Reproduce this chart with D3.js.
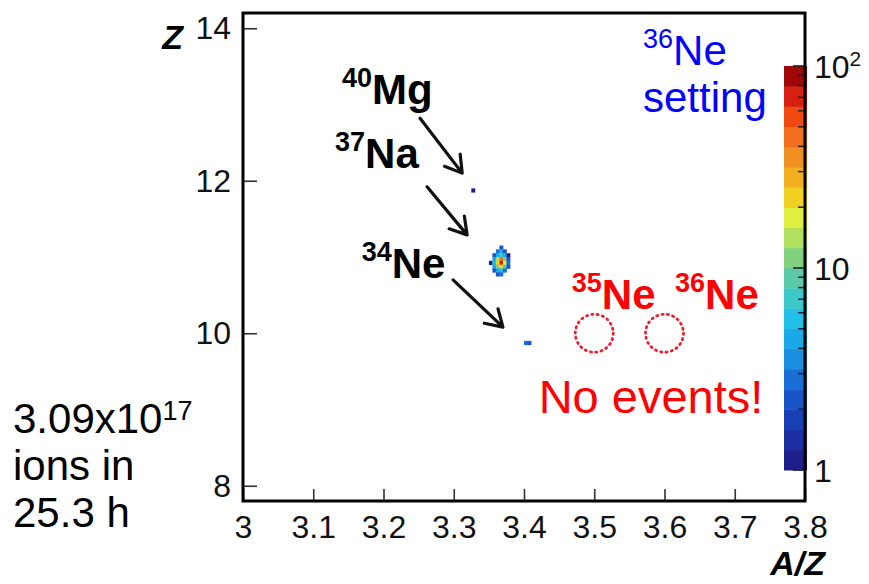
<!DOCTYPE html>
<html>
<head>
<meta charset="utf-8">
<script src="https://cdn.jsdelivr.net/npm/d3@7"></script>
<style>
body { margin: 0; background: #fff; }
text { font-family: "Liberation Sans", Arial, Helvetica, sans-serif; }
</style>
</head>
<body>
<svg id="chart" width="869" height="584"></svg>
<script>
// x / y ticks
var xTicks = [3, 3.1, 3.2, 3.3, 3.4, 3.5, 3.6, 3.7, 3.8]
var xTickLabels = ['3', '3.1', '3.2', '3.3', '3.4', '3.5', '3.6', '3.7', '3.8']
var yTicks = [8, 10, 12, 14]

// histogram bins: [A/Z low edge, Z low edge, counts]
var binWidthAZ = 0.005
var binWidthZ = 0.05
var cells = [
  [3.325, 11.85, 1],
  [3.365, 11.10, 2],
  [3.360, 11.05, 3], [3.365, 11.05, 4], [3.370, 11.05, 2],
  [3.355, 11.00, 2], [3.360, 11.00, 5], [3.365, 11.00, 7], [3.370, 11.00, 4], [3.375, 11.00, 1],
  [3.355, 10.95, 4], [3.360, 10.95, 14], [3.365, 10.95, 45], [3.370, 10.95, 12], [3.375, 10.95, 2],
  [3.350, 10.90, 1], [3.355, 10.90, 6], [3.360, 10.90, 22], [3.365, 10.90, 70], [3.370, 10.90, 18], [3.375, 10.90, 3],
  [3.355, 10.85, 5], [3.360, 10.85, 12], [3.365, 10.85, 25], [3.370, 10.85, 8], [3.375, 10.85, 2],
  [3.355, 10.80, 2], [3.360, 10.80, 5], [3.365, 10.80, 6], [3.370, 10.80, 3],
  [3.360, 10.75, 2], [3.365, 10.75, 3],
  [3.400, 9.85, 3], [3.405, 9.85, 2]
]

// colour palette, bottom (1) to top (100)
var palette = [
  '#1f1f8c', '#1c2ea2', '#1a40b6', '#1a55c8', '#1a6fd6',
  '#1a8ee0', '#1aa8e8', '#22c0e8', '#3cc8c8', '#5ccaa8',
  '#80d080', '#b0e060', '#e0f040', '#f0d020', '#f0b020',
  '#f09020', '#f07020', '#f04a10', '#d82010', '#a00808'
]
var cbMajor = [1, 10, 100]
var cbMinor = [2, 3, 4, 5, 6, 7, 8, 9, 20, 30, 40, 50, 60, 70, 80, 90]

// annotations
var arrows = [
  [3.252, 12.82, 3.312, 12.10],
  [3.262, 11.92, 3.319, 11.29],
  [3.299, 10.70, 3.370, 10.08]
]
var nuclei = [
  { mass: '40', sym: 'Mg', az: 3.141, z: 13.01, color: '#000' },
  { mass: '37', sym: 'Na', az: 3.131, z: 12.17, color: '#000' },
  { mass: '34', sym: 'Ne', az: 3.169, z: 10.72, color: '#000' },
  { mass: '35', sym: 'Ne', az: 3.468, z: 10.32, color: '#ff0000' },
  { mass: '36', sym: 'Ne', az: 3.615, z: 10.32, color: '#ff0000' }
]
var missing = [[3.5, 10], [3.6, 10]]

var svg = d3.select('#chart')

var xPositionScale = d3.scaleLinear().domain([3, 3.8]).range([243, 805])
var yPositionScale = d3.scaleLinear().domain([7.8, 14.2]).range([501, 13])
var colorBarScale = d3.scaleLog().domain([1, 100]).range([470, 66])
var colorScale = d3.scaleQuantize().domain([0, 2]).range(palette)

// heatmap cells
svg.append('g')
  .selectAll('rect')
  .data(cells)
  .enter()
  .append('rect')
  .attr('x', d => xPositionScale(d[0]))
  .attr('y', d => yPositionScale(d[1] + binWidthZ))
  .attr('width', xPositionScale(3 + binWidthAZ) - xPositionScale(3) + 0.4)
  .attr('height', yPositionScale(8) - yPositionScale(8 + binWidthZ) + 0.4)
  .attr('fill', d => colorScale(Math.min(Math.log10(d[2]), 1.999)))

// axes
var xAxis = d3.axisBottom(xPositionScale)
  .tickValues(xTicks)
  .tickSize(-12)
  .tickPadding(14)
  .tickFormat((d, i) => xTickLabels[i])
svg.append('g')
  .attr('class', 'axis x-axis')
  .attr('transform', `translate(0, ${yPositionScale(7.8)})`)
  .call(xAxis)

var yAxis = d3.axisLeft(yPositionScale)
  .tickValues(yTicks)
  .tickSize(-14)
  .tickPadding(12)
  .tickFormat(d3.format('d'))
svg.append('g')
  .attr('class', 'axis y-axis')
  .attr('transform', `translate(${xPositionScale(3)}, 0)`)
  .call(yAxis)

svg.selectAll('.axis .domain').remove()
svg.selectAll('.axis line').attr('stroke', '#333').attr('stroke-width', 1.6)
svg.selectAll('.axis text')
  .attr('font-size', 32)
  .attr('fill', '#111')
  .style('font-family', '"Liberation Sans", Arial, sans-serif')

// colour bar
var bands = d3.range(palette.length)
svg.append('g')
  .selectAll('rect')
  .data(bands)
  .enter()
  .append('rect')
  .attr('x', 784)
  .attr('y', d => colorBarScale(Math.pow(10, (d + 1) / 10)))
  .attr('width', 23)
  .attr('height', d => colorBarScale(Math.pow(10, d / 10)) - colorBarScale(Math.pow(10, (d + 1) / 10)) + 0.5)
  .attr('fill', d => palette[d])

svg.append('g')
  .selectAll('line')
  .data(cbMinor)
  .enter()
  .append('line')
  .attr('x1', 805).attr('x2', 798)
  .attr('y1', d => colorBarScale(d)).attr('y2', d => colorBarScale(d))
  .attr('stroke', '#222').attr('stroke-width', 1.5)
svg.append('g')
  .selectAll('line')
  .data(cbMajor)
  .enter()
  .append('line')
  .attr('x1', 805).attr('x2', 793)
  .attr('y1', d => colorBarScale(d)).attr('y2', d => colorBarScale(d))
  .attr('stroke', '#222').attr('stroke-width', 1.6)

var cbLabels = svg.append('g')
  .selectAll('text')
  .data(cbMajor)
  .enter()
  .append('text')
  .attr('x', 814)
  .attr('y', d => colorBarScale(d))
  .attr('dy', '0.36em')
  .attr('font-size', 32)
  .attr('fill', '#111')
cbLabels.append('tspan').text(d => d === 100 ? '10' : String(d))
cbLabels.filter(d => d === 100)
  .append('tspan')
  .text('2')
  .attr('font-size', 21)
  .attr('dy', -12)

// frame
var fx0 = xPositionScale(3), fx1 = xPositionScale(3.8)
var fy0 = yPositionScale(14.2), fy1 = yPositionScale(7.8)
svg.append('path')
  .attr('d', `M${fx0},${fy0}H${fx1}V${fy1}H${fx0}Z`)
  .attr('fill', 'none')
  .attr('stroke', '#000')
  .attr('stroke-width', 3)

// axis titles
svg.append('text')
  .text('Z')
  .attr('x', 183).attr('y', 49)
  .attr('text-anchor', 'end')
  .attr('font-size', 34).attr('font-weight', 'bold').attr('font-style', 'italic')
svg.append('text')
  .text('A/Z')
  .attr('x', 825).attr('y', 575)
  .attr('text-anchor', 'end')
  .attr('font-size', 34).attr('font-weight', 'bold').attr('font-style', 'italic')

// arrows
var arrowG = svg.append('g')
arrows.forEach(function (a) {
  var x1 = xPositionScale(a[0]), y1 = yPositionScale(a[1])
  var x2 = xPositionScale(a[2]), y2 = yPositionScale(a[3])
  var ang = Math.atan2(y2 - y1, x2 - x1)
  var len = 19, spread = 0.55
  var hx1 = x2 - len * Math.cos(ang - spread), hy1 = y2 - len * Math.sin(ang - spread)
  var hx2 = x2 - len * Math.cos(ang + spread), hy2 = y2 - len * Math.sin(ang + spread)
  arrowG.append('path')
    .attr('d', `M${x1},${y1}L${x2},${y2}M${hx1},${hy1}L${x2},${y2}L${hx2},${hy2}`)
    .attr('fill', 'none')
    .attr('stroke', '#111')
    .attr('stroke-width', 3.2)
    .attr('stroke-linecap', 'round')
    .attr('stroke-linejoin', 'round')
})

// nucleus labels
var nucLabels = svg.append('g')
  .selectAll('text')
  .data(nuclei)
  .enter()
  .append('text')
  .attr('x', d => xPositionScale(d.az))
  .attr('y', d => yPositionScale(d.z))
  .attr('fill', d => d.color)
  .attr('font-weight', 'bold')
nucLabels.append('tspan').text(d => d.mass).attr('font-size', 27).attr('dy', -17)
nucLabels.append('tspan').text(d => d.sym).attr('font-size', 42).attr('dy', 17)

// dotted circles where 35Ne / 36Ne would be
svg.append('g')
  .selectAll('circle')
  .data(missing)
  .enter()
  .append('circle')
  .attr('cx', d => xPositionScale(d[0]))
  .attr('cy', d => yPositionScale(d[1]))
  .attr('r', 19)
  .attr('fill', 'none')
  .attr('stroke', '#e82030')
  .attr('stroke-width', 2.8)
  .attr('stroke-dasharray', '1.2 4.2')
  .attr('stroke-linecap', 'round')

svg.append('text')
  .text('No events!')
  .attr('x', 651).attr('y', 413)
  .attr('text-anchor', 'middle')
  .attr('font-size', 47)
  .attr('fill', '#ff0000')

// setting label
var setting = svg.append('text')
  .attr('x', 643).attr('y', 65)
  .attr('fill', '#0000ff')
setting.append('tspan').text('36').attr('font-size', 27).attr('dy', -17)
setting.append('tspan').text('Ne').attr('font-size', 42).attr('dy', 17)
svg.append('text')
  .text('setting')
  .attr('x', 643).attr('y', 112)
  .attr('font-size', 42)
  .attr('fill', '#0000ff')

// beam info
var info = svg.append('g').attr('font-size', 42).attr('fill', '#000')
var line1 = info.append('text').attr('x', 13).attr('y', 433)
line1.append('tspan').text('3.09x10')
line1.append('tspan').text('17').attr('font-size', 27).attr('dy', -13)
info.append('text').attr('x', 13).attr('y', 480).text('ions in')
info.append('text').attr('x', 13).attr('y', 527).text('25.3 h')
</script>
</body>
</html>
